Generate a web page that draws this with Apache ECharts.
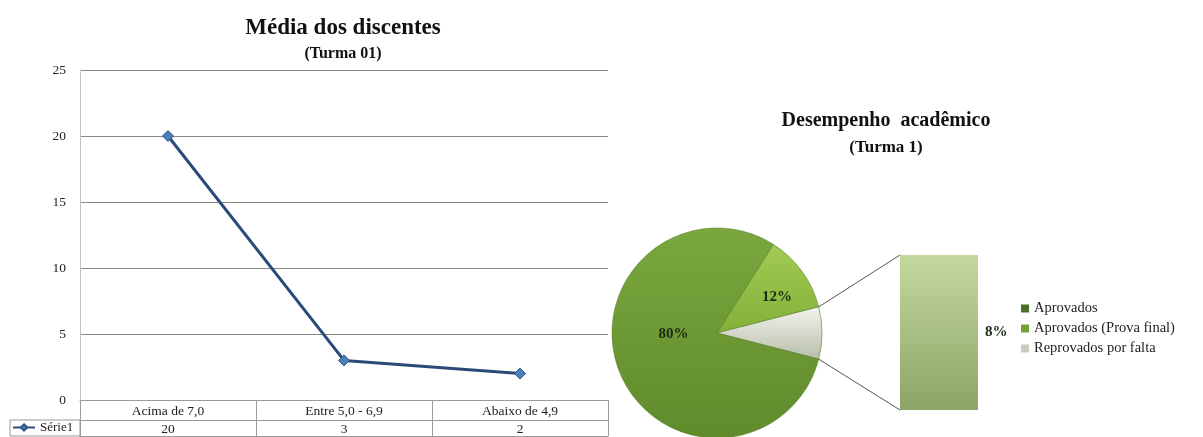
<!DOCTYPE html>
<html>
<head>
<meta charset="utf-8">
<script src="https://cdn.jsdelivr.net/npm/echarts@6/dist/echarts.min.js"></script>
<style>
html, body { margin: 0; padding: 0; background: #fff; }
#main { width: 1203px; height: 437px; }
</style>
</head>
<body>
<div id="main"></div>
<script>
// dados - grafico de linha (Turma 01)
var categorias = ['Acima de 7,0', 'Entre 5,0 - 6,9', 'Abaixo de 4,9'];
var serie1 = [20, 3, 2];
var yTicks = [0, 5, 10, 15, 20, 25];

// dados - pizza de barra (Turma 1)
var fatias = ['Aprovados (Prova final)', 'Reprovados por falta', 'Aprovados'];
var fatiasValores = [3, 2, 20];
var legendaPizza = ['Aprovados', 'Aprovados (Prova final)', 'Reprovados por falta'];

var serif = '"Liberation Serif", "DejaVu Serif", serif';
var myChart = echarts.init(document.getElementById('main'));

var total = fatiasValores.reduce(function (a, b) { return a + b; }, 0);
var pctOutro = Math.round(fatiasValores[1] / total * 100);
// fatia "outro" centrada no eixo horizontal
var startAng = 360 * (fatiasValores[0] + fatiasValores[1] / 2) / total;

var pieCenter = [717, 333];
var pieR = 105;
var barGrid = { left: 900, top: 255, width: 78, height: 155 };

function grad(c1, c2) {
    return new echarts.graphic.LinearGradient(0, 0, 0, 1, [
        { offset: 0, color: c1 },
        { offset: 1, color: c2 }
    ]);
}
var coresFatias = {
    'Aprovados': grad('#7aa83e', '#5f8b2b'),
    'Aprovados (Prova final)': grad('#a2cb52', '#82b13a'),
    'Reprovados por falta': grad('#f3f4ee', '#b7bea9')
};
var coresLegenda = {
    'Aprovados': '#4d6e25',
    'Aprovados (Prova final)': '#70a23a',
    'Reprovados por falta': '#c9cdbf'
};
// deslocamento dos rotulos de percentual dentro da pizza
var offsetRotulo = {
    'Aprovados': [8, -19],
    'Aprovados (Prova final)': [15, -3]
};

var option = {
    backgroundColor: '#fff',
    animation: false,
    title: [{
        text: 'Média dos discentes',
        subtext: '(Turma 01)',
        left: 338,
        textAlign: 'center',
        top: 12,
        itemGap: 6,
        textStyle: { fontFamily: serif, fontWeight: 'bold', fontSize: 23, color: '#111' },
        subtextStyle: { fontFamily: serif, fontWeight: 'bold', fontSize: 16, color: '#111' }
    }, {
        text: 'Desempenho  acadêmico',
        subtext: '(Turma 1)',
        left: 881,
        textAlign: 'center',
        top: 106,
        itemGap: 8,
        textStyle: { fontFamily: serif, fontWeight: 'bold', fontSize: 20, color: '#111' },
        subtextStyle: { fontFamily: serif, fontWeight: 'bold', fontSize: 17, color: '#111' }
    }],
    legend: [{
        data: ['Série1'],
        left: 12,
        top: 421,
        itemWidth: 22,
        itemHeight: 8,
        itemGap: 2,
        padding: 0,
        textStyle: { fontFamily: serif, fontSize: 13, color: '#222' }
    }, {
        data: legendaPizza.map(function (n) {
            return { name: n, itemStyle: { color: coresLegenda[n], borderWidth: 0 } };
        }),
        orient: 'vertical',
        left: 1021,
        top: 301,
        itemWidth: 8,
        itemHeight: 8,
        itemGap: 5,
        icon: 'rect',
        padding: 0,
        textStyle: { fontFamily: serif, fontSize: 14.5, color: '#222' }
    }],
    grid: [
        { left: 80, top: 70, width: 528, height: 330 },
        barGrid
    ],
    xAxis: [{
        type: 'category',
        gridIndex: 0,
        data: categorias,
        position: 'bottom',
        axisLine: { show: true, lineStyle: { color: '#9a9a9a' } },
        axisTick: { show: true, interval: 0, length: 36, lineStyle: { color: '#9a9a9a' } },
        axisLabel: { margin: 4, interval: 0, fontFamily: serif, fontSize: 13.5, color: '#222' }
    }, {
        type: 'category',
        gridIndex: 0,
        data: serie1.map(String),
        position: 'bottom',
        offset: 20,
        axisLine: { show: true, lineStyle: { color: '#9a9a9a' } },
        axisTick: { show: false },
        axisLabel: { margin: 2, interval: 0, fontFamily: serif, fontSize: 13.5, color: '#222' }
    }, {
        type: 'category',
        gridIndex: 0,
        data: categorias,
        position: 'bottom',
        offset: 36,
        axisLine: { show: true, lineStyle: { color: '#9a9a9a' } },
        axisTick: { show: false },
        axisLabel: { show: false }
    }, {
        type: 'category',
        gridIndex: 1,
        data: [''],
        show: false
    }],
    yAxis: [{
        type: 'value',
        gridIndex: 0,
        min: yTicks[0],
        max: yTicks[yTicks.length - 1],
        interval: 5,
        axisLine: { show: true, lineStyle: { color: '#c4c4c4' } },
        axisTick: { show: false },
        splitLine: { lineStyle: { color: '#8a8a8a', width: 1 } },
        axisLabel: { margin: 14, fontFamily: serif, fontSize: 13.5, color: '#222' }
    }, {
        type: 'value',
        gridIndex: 1,
        min: 0,
        max: fatiasValores[1],
        show: false
    }],
    series: [{
        name: 'Série1',
        type: 'line',
        xAxisIndex: 0,
        yAxisIndex: 0,
        data: serie1,
        symbol: 'diamond',
        symbolSize: 11,
        lineStyle: { color: '#2b4a7a', width: 3 },
        itemStyle: { color: '#4a7ebb', borderColor: '#2f5288', borderWidth: 1 }
    }, {
        name: 'pizza',
        type: 'pie',
        center: pieCenter,
        radius: pieR,
        startAngle: startAng,
        clockwise: true,
        avoidLabelOverlap: false,
        emphasis: { disabled: true },
        itemStyle: { borderColor: '#5a7d2c', borderWidth: 0.6 },
        label: {
            show: true,
            position: 'inside',
            formatter: '{d}%',
            fontFamily: serif,
            fontWeight: 'bold',
            fontSize: 15,
            color: '#1c2a14'
        },
        labelLine: { show: false },
        data: fatias.map(function (n, i) {
            var d = { name: n, value: fatiasValores[i], itemStyle: { color: coresFatias[n] } };
            if (n === 'Reprovados por falta') d.label = { show: false };
            else d.label = { offset: offsetRotulo[n] };
            return d;
        })
    }, {
        name: 'barra',
        type: 'bar',
        xAxisIndex: 3,
        yAxisIndex: 1,
        data: [fatiasValores[1]],
        barWidth: '100%',
        itemStyle: {
            color: grad('#c4d89e', '#8ca567')
        },
        label: {
            show: true,
            position: 'right',
            distance: 7,
            formatter: pctOutro + '%',
            fontFamily: serif,
            fontWeight: 'bold',
            fontSize: 15,
            color: '#1c2a14'
        }
    }]
};

myChart.setOption(option);

// linhas de ligação da fatia "outro" até a barra
var a1 = (startAng - 360 * fatiasValores[0] / total) * Math.PI / 180;
var a2 = (startAng - 360 * (fatiasValores[0] + fatiasValores[1]) / total) * Math.PI / 180;
var topLeft = myChart.convertToPixel({ xAxisIndex: 3, yAxisIndex: 1 }, [0, fatiasValores[1]]);
var botLeft = myChart.convertToPixel({ xAxisIndex: 3, yAxisIndex: 1 }, [0, 0]);
var bx = barGrid.left;

myChart.setOption({
    graphic: [{
        type: 'line',
        shape: {
            x1: pieCenter[0] + pieR * Math.cos(a1), y1: pieCenter[1] - pieR * Math.sin(a1),
            x2: bx, y2: topLeft[1]
        },
        style: { stroke: '#555', lineWidth: 1 }
    }, {
        type: 'line',
        shape: {
            x1: pieCenter[0] + pieR * Math.cos(a2), y1: pieCenter[1] - pieR * Math.sin(a2),
            x2: bx, y2: botLeft[1]
        },
        style: { stroke: '#555', lineWidth: 1 }
    }, {
        // celula da legenda na tabela
        type: 'rect',
        shape: { x: 10, y: 420, width: 70, height: 16 },
        style: { fill: 'none', stroke: '#9a9a9a', lineWidth: 1 }
    }]
});

window.addEventListener('resize', function () {
    myChart.resize();
});
</script>
</body>
</html>
